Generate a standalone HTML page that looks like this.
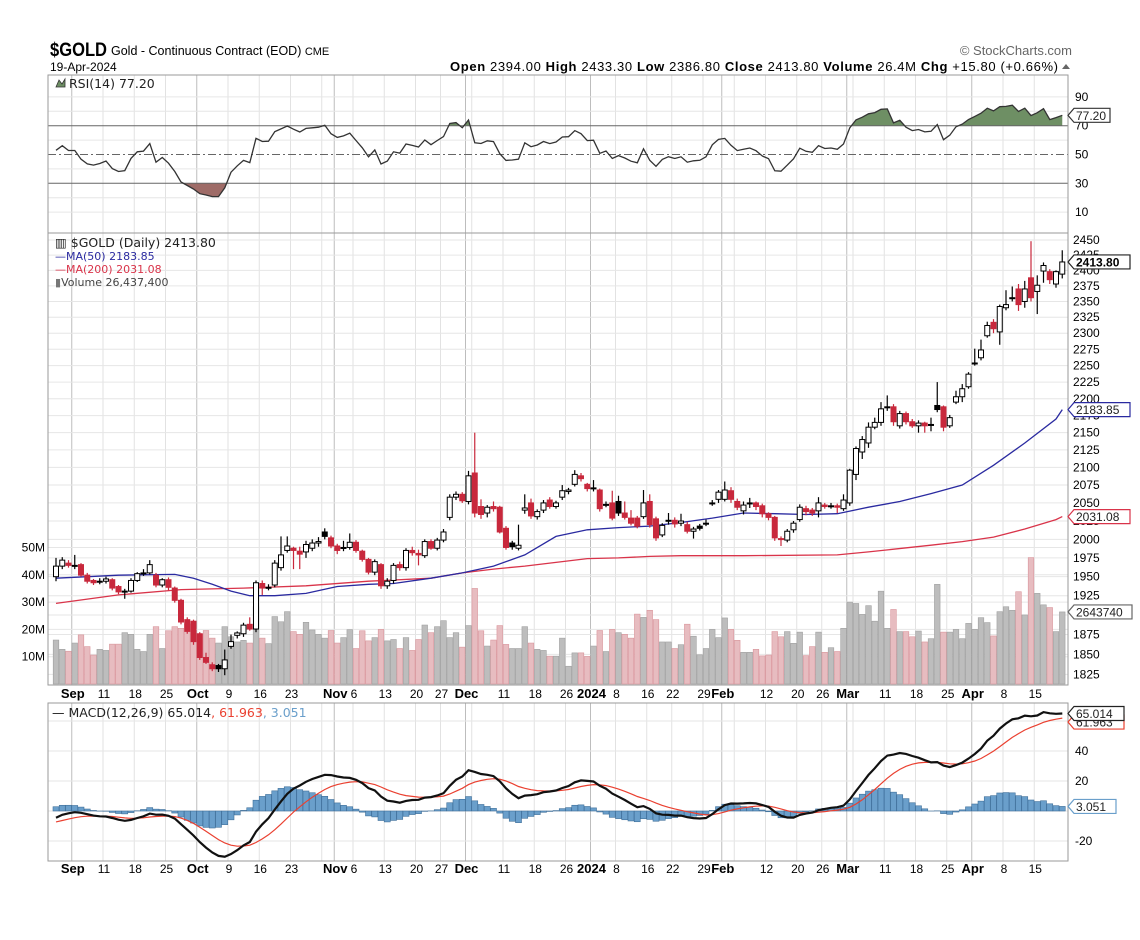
<!DOCTYPE html>
<html><head><meta charset="utf-8">
<style>
html,body{margin:0;padding:0;background:#fff;}
svg{display:block;font-family:"Liberation Sans",Arial,sans-serif;}
.lg{font-family:"DejaVu Sans",sans-serif;font-size:11px;}
</style></head>
<body>
<svg id="chart" width="1140" height="940" viewBox="0 0 1140 940" xmlns="http://www.w3.org/2000/svg">
  <rect width="1140" height="940" fill="#fff"/>
  <text x="50" y="56" font-size="19" font-weight="bold" textLength="57" lengthAdjust="spacingAndGlyphs">$GOLD</text>
  <text x="111" y="55" font-size="12.5">Gold - Continuous Contract (EOD) <tspan font-size="11">CME</tspan></text>
  <text x="50" y="71" font-size="12">19-Apr-2024</text>
  <text x="1072" y="55" font-size="13" fill="#666" text-anchor="end">© StockCharts.com</text>
  <text x="450" y="71" font-size="13" textLength="608" lengthAdjust="spacing"><tspan font-weight="bold">Open</tspan> 2394.00  <tspan font-weight="bold">High</tspan> 2433.30  <tspan font-weight="bold">Low</tspan> 2386.80  <tspan font-weight="bold">Close</tspan> 2413.80  <tspan font-weight="bold">Volume</tspan> 26.4M  <tspan font-weight="bold">Chg</tspan> +15.80 (+0.66%)</text>
  <path d="M1062 69 L1066 64 L1070 69 Z" fill="#666"/>
  <g id="g"></g>
</svg>
<script>
// ---- data ----
const opens=[1950,1964,1968,1965,1966,1952,1945,1944,1944,1946,1937,1931,1931,1945,1955,1955,1952,1939,1946,1935,1919,1894,1892,1876,1846,1837,1836,1832,1860,1874,1876,1888,1882,1941,1936,1939,1962,1985,1988,1984,1983,1988,1995,2010,2002,1991,1989,1989,1996,1984,1973,1956,1966,1938,1945,1966,1962,1985,1981,1978,1997,1988,1999,2030,2058,2062,2052,2092,2045,2036,2045,2044,2015,1995,1988,2040,2050,2031,2040,2054,2045,2058,2066,2076,2088,2076,2071,2068,2048,2050,2052,2036,2029,2029,2031,2052,2028,2006,2026,2026,2022,2020,2011,2018,2022,2050,2055,2055,2067,2052,2039,2050,2050,2046,2035,2030,2001,1999,2013,2027,2042,2040,2039,2047,2046,2046,2042,2050,2090,2122,2135,2158,2165,2188,2188,2160,2178,2166,2160,2164,2162,2190,2188,2160,2195,2203,2218,2254,2262,2296,2317,2302,2340,2356,2370,2350,2388,2366,2399,2398,2378,2394];
const highs=[1975,1976,1972,1979,1968,1955,1947,1948,1950,1948,1939,1934,1948,1956,1960,1972,1955,1948,1949,1937,1921,1897,1894,1878,1852,1840,1838,1856,1875,1879,1890,1897,1945,1945,1940,1972,2004,2004,1990,1990,1998,2000,2003,2015,2005,1994,1998,2008,1999,1986,1975,1973,1968,1948,1968,1970,1988,1990,1986,2000,2000,2002,2014,2062,2066,2065,2095,2150,2055,2047,2052,2046,2018,1998,2020,2062,2056,2041,2054,2058,2053,2075,2071,2096,2092,2078,2082,2070,2052,2067,2060,2052,2040,2032,2068,2062,2031,2022,2036,2030,2035,2024,2017,2021,2027,2054,2068,2080,2072,2056,2052,2057,2052,2049,2037,2032,2004,2014,2025,2048,2046,2043,2058,2050,2050,2049,2062,2098,2130,2145,2165,2172,2195,2205,2192,2182,2181,2170,2168,2166,2172,2225,2190,2176,2212,2222,2240,2276,2290,2318,2322,2345,2368,2374,2378,2383,2448,2392,2413,2402,2400,2433];
const lows=[1944,1960,1962,1960,1950,1941,1939,1940,1941,1932,1927,1921,1929,1943,1951,1953,1936,1936,1932,1916,1888,1876,1862,1843,1838,1829,1828,1824,1857,1870,1872,1880,1878,1926,1932,1936,1958,1982,1960,1960,1975,1984,1990,2000,1988,1980,1984,1986,1982,1970,1953,1952,1934,1934,1941,1958,1958,1978,1965,1975,1986,1985,1996,2026,2054,2050,2048,2030,2028,2030,2038,2008,1986,1986,1985,2035,2028,2027,2036,2042,2042,2054,2062,2073,2080,2066,2066,2038,2044,2026,2032,2027,2019,2015,2028,2016,1998,2003,2020,2016,2018,2008,2001,2012,2018,2046,2050,2052,2050,2040,2034,2043,2040,2030,2026,1998,1991,1996,2009,2024,2033,2032,2030,2042,2042,2036,2039,2046,2082,2112,2128,2155,2160,2182,2160,2156,2162,2157,2150,2150,2152,2180,2152,2157,2192,2195,2215,2250,2258,2293,2300,2282,2336,2350,2335,2340,2350,2330,2380,2378,2372,2387];
const closes=[1964,1972,1965,1965,1952,1944,1942,1944,1947,1935,1930,1931,1945,1954,1955,1966,1939,1946,1936,1919,1891,1879,1866,1846,1840,1832,1832,1843,1866,1877,1887,1882,1942,1935,1936,1968,1979,1991,1985,1980,1993,1995,1997,2004,1991,1985,1989,1996,1985,1973,1956,1970,1938,1944,1965,1962,1985,1982,1979,1997,1988,1999,2010,2058,2062,2053,2088,2036,2034,2044,2042,2010,1989,1990,1992,2043,2032,2038,2050,2045,2050,2067,2068,2090,2084,2070,2071,2042,2048,2029,2036,2030,2022,2018,2050,2020,2002,2019,2026,2021,2025,2011,2014,2015,2022,2050,2065,2068,2055,2044,2047,2050,2045,2035,2030,2002,2001,2011,2022,2044,2038,2036,2050,2045,2046,2044,2054,2096,2127,2140,2158,2165,2185,2188,2166,2178,2166,2160,2164,2160,2162,2184,2158,2172,2203,2215,2237,2254,2274,2312,2307,2342,2345,2356,2345,2370,2356,2376,2408,2385,2398,2413.8];
const volumes=[16.1,12.7,12,15,18,13.7,10.6,12.7,12.3,14.6,14.6,18.8,18.2,12.7,11.9,18.2,21,13,19.5,21,20.4,22,19.8,18.2,19.6,16.8,15,21,17.3,15.4,16,15,28.3,16.8,14.8,24.7,22.8,26.5,19.2,18.2,22.6,19.8,18.2,16.8,19.6,15,17,19.9,13,19.5,15.8,17,20,15.8,16.3,13,17,12.3,16.3,21.6,18.8,21,23.2,17,18.8,13.5,21.4,35,19.5,13.9,16.1,21.4,14.5,13,13,21,15,12.7,12.3,10.2,10.2,16.8,6.5,11.4,11.4,10.1,13.9,19.6,11.9,20,18.8,18.2,16.8,25.6,24.4,27,23.6,15.4,15.4,13,14.4,21.9,17.5,10.7,13,20,17,24.2,20,16,11.6,11.6,12.7,10.3,10.6,19.2,17.3,19.2,14.9,19,10.4,13.7,19,11.6,13.3,11.9,20.4,30,29.5,25.5,28.7,23,34,20.4,27.3,19.2,19.2,17.3,19.4,15.4,16.6,36.5,19,19,20,16.6,22.2,20,24.3,22.5,17.6,26.5,28.3,27,33.8,25.3,46.3,33.2,29,28,19.2,26.4];
const ma50Idx=[0,10,19,22,25,28,31,35,40,45,50,54,60,65,70,75,80,85,90,95,100,105,110,115,120,125,130,135,140,145,150,155,160,161];
const ma50Val=[1948,1952,1953,1948,1940,1931,1925,1925,1928,1937,1940,1941,1948,1955,1964,1979,2004,2013,2016,2018,2023,2029,2036,2035,2034,2035,2044,2052,2063,2075,2103,2135,2170,2183.85];
const ma200Idx=[0,10,20,30,40,50,60,65,70,75,80,85,90,95,100,110,125,130,140,145,150,155,160,161];
const ma200Val=[1915,1926,1933,1935,1938,1944,1948,1955,1960,1964,1969,1974,1975,1977,1978,1978,1979,1983,1992,1997,2003,2014,2027,2031.08];
const priceTicks=[1825,1850,1875,1900,1925,1950,1975,2000,2025,2050,2075,2100,2125,2150,2175,2200,2225,2250,2275,2300,2325,2350,2375,2400,2425,2450];
const volTicks=[10,20,30,40,50];
const rsiTicks=[90,70,50,30,10];
const macdTicks=[40,20,-20];
const holidays=["2023-11-23","2023-12-25","2024-01-01","2024-01-15","2024-02-19","2024-03-29"];

// ---- scales ----
const X0=56, DX=6.25, L=48, R=1068;
const xs=i=>X0+i*DX;
const yP=p=>240+(Math.log(2450)-Math.log(p))*1475;
const yV=v=>684-v*2.73;
const yR=r=>154.5-(r-50)*1.44;
const yM=m=>811-m*1.5;
const NS="http://www.w3.org/2000/svg";
const G=document.getElementById('g');
function mk(t,a,parent){const e=document.createElementNS(NS,t);for(const k in a)e.setAttribute(k,a[k]);(parent||G).appendChild(e);return e;}
function txt(x,y,s,a){const e=mk('text',Object.assign({x:x,y:y},a||{}));e.textContent=s;return e;}

// ---- trading dates ----
const dates=[];{let d=new Date(Date.UTC(2023,7,30));while(dates.length<closes.length){const wd=d.getUTCDay();const s=d.toISOString().slice(0,10);if(wd>0&&wd<6&&holidays.indexOf(s)<0)dates.push(new Date(d));d=new Date(d.getTime()+86400000);}}
const MN=["Jan","Feb","Mar","Apr","May","Jun","Jul","Aug","Sep","Oct","Nov","Dec"];
const grids=[];
for(let i=3;i<dates.length;i++){const d=dates[i],p=dates[i-1];
  const newMonth=d.getUTCMonth()!==p.getUTCMonth()||i===3;
  const newWeek=d.getUTCDay()<=p.getUTCDay()||(d-p)>3*86400000;
  if(newMonth){const yr=d.getUTCMonth()===0;grids.push({i:i,m:true,lab:yr?String(d.getUTCFullYear()):MN[d.getUTCMonth()]});}
  else if(newWeek){grids.push({i:i,m:false,lab:String(d.getUTCDate())});}}
const monthIdx=grids.filter(g=>g.m).map(g=>g.i);
let lastLab=-10;grids.forEach(g=>{
  if(g.m){g.show=true;lastLab=g.i;return;}
  const nearM=monthIdx.some(mi=>Math.abs(mi-g.i)<3);
  g.show=!nearM&&(g.i-lastLab>=3);if(g.show)lastLab=g.i;});

// ---- panels ----
const panels=[[75,233],[233,685],[703,861]];
panels.forEach((p,k)=>{
  const pr=mk('rect',{x:L,y:p[0],width:R-L,height:p[1]-p[0],fill:'#fff',stroke:'none'});
  
  
});
const gx=i=>xs(i)-3;
panels.forEach(p=>{grids.forEach(g=>{const l=mk('line',{x1:gx(g.i),x2:gx(g.i),y1:p[0],y2:p[1],stroke:g.m?'#bdbdbd':'#e2e2e2','stroke-width':1});
  });});
for(let r=10;r<=90;r+=10){if(r===30||r===50||r===70)continue;const l=mk('line',{x1:L,x2:R,y1:yR(r),y2:yR(r),stroke:'#e6e6e6'});}
priceTicks.forEach(p=>{const l=mk('line',{x1:L,x2:R,y1:yP(p),y2:yP(p),stroke:'#e6e6e6'});});
volTicks.forEach(v=>{const l=mk('line',{x1:L,x2:R,y1:yV(v),y2:yV(v),stroke:'#e6e6e6'});});
for(let m=-20;m<=60;m+=20){const l=mk('line',{x1:L,x2:R,y1:yM(m),y2:yM(m),stroke:'#e6e6e6'});}

// ---- RSI ----
const rsi=[];{let ag=4.5,al=4.0;rsi.push(100-100/(1+ag/al));for(let i=1;i<closes.length;i++){const ch=closes[i]-closes[i-1];ag=(ag*13+Math.max(ch,0))/14;al=(al*13+Math.max(-ch,0))/14;rsi.push(al===0?100:100-100/(1+ag/al));}}
const defs=mk('defs',{});
mk('rect',{x:L,y:0,width:R-L,height:yR(70)},mk('clipPath',{id:'cAbove'},defs));
mk('rect',{x:L,y:yR(30),width:R-L,height:300},mk('clipPath',{id:'cBelow'},defs));
const rpts=rsi.map((r,i)=>xs(i).toFixed(1)+','+yR(r).toFixed(1)).join(' ');
const fa=mk('polygon',{points:xs(0)+','+yR(70)+' '+rpts+' '+xs(rsi.length-1)+','+yR(70),fill:'#6e8f64','clip-path':'url(#cAbove)'});

const fb=mk('polygon',{points:xs(0)+','+yR(30)+' '+rpts+' '+xs(rsi.length-1)+','+yR(30),fill:'#9e6b67','clip-path':'url(#cBelow)'});

[[70,'none'],[30,'none'],[50,'8,3,2,3']].forEach(a=>{const l=mk('line',{x1:L,x2:R,y1:yR(a[0]),y2:yR(a[0]),stroke:'#666','stroke-width':1,'stroke-dasharray':a[1]});
  });
const rl=mk('polyline',{points:rpts,fill:'none',stroke:'#333','stroke-width':1.3});


// ---- volume ----
volumes.forEach((v,i)=>{const dn=i>0&&closes[i]<closes[i-1];
  const b=mk('rect',{x:xs(i)-2.8,y:yV(v),width:5.6,height:684-yV(v),fill:dn?'#e7bcc0':'#bdbdbd',stroke:dn?'#d9959b':'#a0a0a0','stroke-width':0.6});
  });

// ---- MAs ----
function maPath(idx,val){return idx.map((ii,k)=>xs(ii).toFixed(1)+','+yP(val[k]).toFixed(1)).join(' ');}
const m2=mk('polyline',{points:maPath(ma200Idx,ma200Val),fill:'none',stroke:'#d9344a','stroke-width':1.3});

const m1=mk('polyline',{points:maPath(ma50Idx,ma50Val),fill:'none',stroke:'#2a2aa0','stroke-width':1.3});


// ---- candles ----
closes.forEach((c,i)=>{const o=opens[i],x=xs(i);const down=i>0&&c<closes[i-1];const col=down?'#c8283c':'#000';
  const w=mk('line',{x1:x,x2:x,y1:yP(highs[i]),y2:yP(lows[i]),stroke:col,'stroke-width':1.2});
  
  const top=yP(Math.max(o,c)),bot=yP(Math.min(o,c));const filled=c<o;
  const b=mk('rect',{x:x-2.5,y:top,width:5,height:Math.max(bot-top,1),fill:filled?col:'#fff',stroke:col,'stroke-width':1});
  });

// ---- MACD ----
const macd=[],sig=[];{let e12=1950,e26=1956,s=-8;closes.forEach(c=>{e12+=(c-e12)*2/13;e26+=(c-e26)*2/27;const m=e12-e26;s+=(m-s)*2/10;macd.push(m);sig.push(s);});}
macd.forEach((m,i)=>{const h=m-sig[i];const y0=yM(0),y1=yM(h);
  const b=mk('rect',{x:xs(i)-3,y:Math.min(y0,y1),width:6,height:Math.abs(y1-y0),fill:'#6a9fcb',stroke:'#3f6f99','stroke-width':0.6});
  });
const sl=mk('polyline',{points:sig.map((s,i)=>xs(i).toFixed(1)+','+yM(s).toFixed(1)).join(' '),fill:'none',stroke:'#ea4030','stroke-width':1.2});

const ml=mk('polyline',{points:macd.map((m,i)=>xs(i).toFixed(1)+','+yM(m).toFixed(1)).join(' '),fill:'none',stroke:'#111','stroke-width':2.2});


panels.forEach(p=>{const r=mk('rect',{x:L,y:p[0],width:R-L,height:p[1]-p[0],fill:'none',stroke:'#9a9a9a','stroke-width':1});});

// ---- axes labels ----
rsiTicks.forEach(r=>{const t=txt(1075,yR(r)+4,String(r),{'font-size':12});});
priceTicks.forEach(p=>{const t=txt(1073,yP(p)+4,String(p),{'font-size':12});});
volTicks.forEach(v=>{const t=txt(45,yV(v)+4,v+'M',{'font-size':12,'text-anchor':'end'});});
macdTicks.forEach(m=>{const t=txt(1075,yM(m)+4,String(m),{'font-size':12});});
[698,873].forEach(yy=>{grids.forEach(g=>{if(!g.show)return;const t=txt(gx(g.i)+1,yy,g.lab,{'font-size':g.m?13:12,'font-weight':g.m?'bold':'normal','text-anchor':'middle'});
  });});

// ---- value tags ----
function tag(y,s,stroke,col,bold,w,name){const gg=mk('g',{});
  mk('path',{d:`M1068 ${y} L1074 ${y-7} L${1074+w} ${y-7} L${1074+w} ${y+7} L1074 ${y+7} Z`,fill:'#fff',stroke:stroke,'stroke-width':1.2},gg);
  const t=mk('text',{x:1076,y:y+4.5,'font-size':12,fill:col,'font-weight':bold?'bold':'normal'},gg);t.textContent=s;}
tag(yR(rsi[rsi.length-1]),rsi[rsi.length-1].toFixed(2),'#333','#222',false,36,'rsi-value-tag');
tag(yP(closes[closes.length-1]),closes[closes.length-1].toFixed(2),'#222','#000',true,56,'price-value-tag');
tag(yP(ma50Val[ma50Val.length-1]),ma50Val[ma50Val.length-1].toFixed(2),'#2a2aa0','#222',false,56,'ma50-value-tag');
tag(yP(ma200Val[ma200Val.length-1]),ma200Val[ma200Val.length-1].toFixed(2),'#d9344a','#222',false,56,'ma200-value-tag');
tag(yV(volumes[volumes.length-1]),'2643740','#666','#222',false,58,'volume-value-tag');
tag(yM(sig[sig.length-1])+4,sig[sig.length-1].toFixed(3),'#ea4030','#222',false,50,'macd-signal-tag');
tag(Math.max(yM(macd[macd.length-1]),712),macd[macd.length-1].toFixed(3),'#222','#222',false,50,'macd-value-tag');
const hl=macd[macd.length-1]-sig[sig.length-1];
tag(yM(hl),hl.toFixed(3),'#6a9fcb','#222',false,42,'macd-histogram-tag');

// ---- legends ----
function lgd(x,y,parts,name,fs){const t=mk('text',{x:x,y:y,class:'lg','font-size':fs||11});
  if(fs)t.style.fontSize=fs+'px';
  parts.forEach(p=>{const s=mk('tspan',{fill:p[1]},t);s.textContent=p[0];});}
mk('path',{d:'M56 87 L59 80 L62 84 L65 79 L65 87 Z',fill:'#6e8f64',stroke:'#333','stroke-width':0.8});
lgd(69,88,[['RSI(14) '+rsi[rsi.length-1].toFixed(2),'#222']],'rsi-legend',12.5);
lgd(55,247,[['▥ $GOLD (Daily) '+closes[closes.length-1].toFixed(2),'#222']],'price-legend',12.5);
lgd(55,260,[['—','#2a2aa0'],['MA(50) '+ma50Val[ma50Val.length-1].toFixed(2),'#2a2aa0']],'ma50-legend');
lgd(55,273,[['—','#d9344a'],['MA(200) '+ma200Val[ma200Val.length-1].toFixed(2),'#d9344a']],'ma200-legend');
lgd(55,286,[['▮','#777'],['Volume 26,437,400','#444']],'volume-legend');
lgd(52,717,[['— ','#111'],['MACD(12,26,9) '+macd[macd.length-1].toFixed(3),'#222'],[', '+sig[sig.length-1].toFixed(3),'#ea4030'],[', '+hl.toFixed(3),'#6a9fcb']],'macd-legend',12.5);
</script>
</body></html>
